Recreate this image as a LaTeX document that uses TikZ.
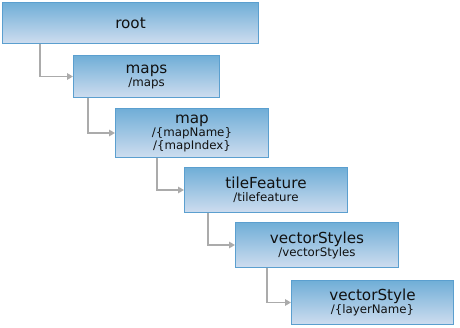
\documentclass[tikz,border=0pt]{standalone}
\usepackage{fontspec}
\setmainfont{DejaVu Sans}
\usetikzlibrary{arrows.meta}
\definecolor{boxtop}{HTML}{70AED7}
\definecolor{boxbot}{HTML}{CEDDEF}
\definecolor{boxline}{HTML}{5B9FCF}
\definecolor{conn}{HTML}{ABABAB}
\definecolor{txt}{HTML}{111111}
\newcommand{\ttl}[1]{{\fontsize{15.2}{13}\selectfont #1}}
\begin{document}
\begin{tikzpicture}[x=1pt,y=-1pt,
  box/.style={draw=boxline, line width=1pt, top color=boxtop, bottom color=boxbot,
    anchor=north west, inner sep=0pt, align=center, text=txt,
    font=\fontsize{11.8}{13}\selectfont},
  link/.style={draw=conn, line width=1.8pt, -{Triangle[length=6pt,width=6.5pt]}}]
\useasboundingbox (0,0) rectangle (460,328);
\node[box, minimum width=256pt, minimum height=41pt] (root) at (2,2) {\ttl{root}};
\node[box, minimum width=146pt, minimum height=42pt] (maps) at (73,55) {\ttl{maps}\\/maps};
\node[box, minimum width=153pt, minimum height=49pt] (map) at (115,108) {\ttl{map}\\/\{mapName\}\\/\{mapIndex\}};
\node[box, minimum width=163pt, minimum height=45pt] (tile) at (184,167) {\ttl{tileFeature}\\/tilefeature};
\node[box, minimum width=163pt, minimum height=45pt] (vss) at (235,222) {\ttl{vectorStyles}\\/vectorStyles};
\node[box, minimum width=162pt, minimum height=44pt] (vs) at (291,280) {\ttl{vectorStyle}\\/\{layerName\}};
\draw[link] ([xshift=38pt]root.south west) |- (maps.west);
\draw[link] ([xshift=15pt]maps.south west) |- (map.west);
\draw[link] ([xshift=42pt]map.south west) |- (tile.west);
\draw[link] ([xshift=24pt]tile.south west) |- (vss.west);
\draw[link] ([xshift=32pt]vss.south west) |- (vs.west);
\end{tikzpicture}
\end{document}
